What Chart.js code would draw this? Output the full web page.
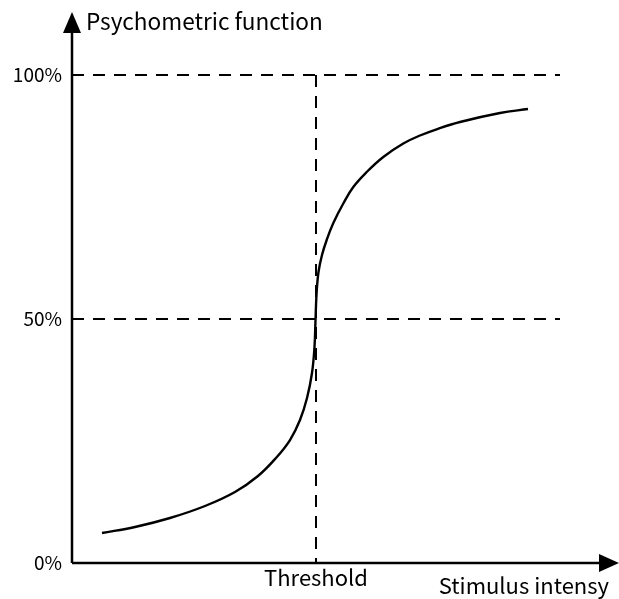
<!DOCTYPE html>
<html>
<head>
<meta charset="utf-8">
<script src="https://cdn.jsdelivr.net/npm/chart.js@4/dist/chart.umd.min.js"></script>
<style>
  html, body { margin: 0; padding: 0; background: #fff; }
  #wrap { width: 619px; height: 599px; }
</style>
</head>
<body>
<div id="wrap"><canvas id="myChart" width="619" height="599"></canvas></div>
<script>
'use strict';

// stimulus intensity (arbitrary units, threshold sits at 50)
const curveX = [6.15, 12.91, 20.08, 27.25, 33.40, 38.11, 41.80, 44.67, 46.72, 48.16, 49.18, 49.69, 49.90, 50.10, 50.51, 51.23, 52.19, 53.55, 55.59, 57.64, 60.39, 63.79, 67.89, 71.31, 75.00, 79.51, 87.70, 93.44];
// percent of responses
const curveY = [6.15, 7.38, 9.22, 11.68, 14.55, 17.83, 21.52, 25.20, 29.30, 33.81, 38.93, 44.26, 49.80, 54.92, 59.63, 63.11, 66.19, 69.67, 73.67, 77.05, 80.12, 83.20, 85.96, 87.60, 88.98, 90.37, 92.21, 93.03];
// y tick values and the dashed reference levels
const yTicks = [0, 50, 100];
const refLevels = [50, 100];
const thresholdX = 50;
const xMax = 100;

const textFont = '"Noto Sans CJK JP", "Open Sans", sans-serif';

// curve points
let curvePoints = [];
for (let i = 0; i < curveX.length; i++) {
  curvePoints.push({ x: curveX[i], y: curveY[i] });
}

// dashed lines: one horizontal per level, one vertical at threshold
let dashSets = [];
for (let level of refLevels) {
  dashSets.push({
    data: [{ x: 0, y: level }, { x: xMax, y: level }],
    showLine: true,
    borderColor: '#000',
    borderWidth: 2,
    borderDash: [12, 9],
    pointRadius: 0,
    clip: false
  });
}
dashSets.push({
  data: [{ x: thresholdX, y: 100 }, { x: thresholdX, y: 0 }],
  showLine: true,
  borderColor: '#000',
  borderWidth: 2,
  borderDash: [12, 9],
  pointRadius: 0,
  clip: false
});

// draws axis lines with arrow heads and the two axis titles
const axesPlugin = {
  id: 'axesPlugin',
  afterDatasetsDraw(chart) {
    const ctx = chart.ctx;
    const area = chart.chartArea;
    ctx.save();
    ctx.strokeStyle = '#000';
    ctx.fillStyle = '#000';
    ctx.lineWidth = 2.5;
    ctx.beginPath();
    ctx.moveTo(area.left, area.bottom);
    ctx.lineTo(area.left, 28);
    ctx.moveTo(area.left, area.bottom);
    ctx.lineTo(606, area.bottom);
    ctx.stroke();
    // y arrow
    ctx.beginPath();
    ctx.moveTo(area.left, 12);
    ctx.lineTo(area.left - 9, 33);
    ctx.lineTo(area.left + 9, 33);
    ctx.closePath();
    ctx.fill();
    // x arrow
    ctx.beginPath();
    ctx.moveTo(619, area.bottom);
    ctx.lineTo(599, area.bottom - 9);
    ctx.lineTo(599, area.bottom + 9);
    ctx.closePath();
    ctx.fill();
    // titles
    ctx.font = '22.6px ' + textFont;
    ctx.textBaseline = 'middle';
    ctx.textAlign = 'left';
    ctx.fillText('Psychometric function', 86, 21);
    ctx.font = '22px ' + textFont;
    ctx.textAlign = 'right';
    ctx.fillText('Stimulus intensy', 609, 586);
    ctx.restore();
  }
};

const data = {
  datasets: [{
    data: curvePoints,
    showLine: true,
    borderColor: '#000',
    borderWidth: 2.4,
    tension: 0.4,
    pointRadius: 0,
    clip: false
  }].concat(dashSets)
};

const config = {
  type: 'scatter',
  data: data,
  options: {
    responsive: false,
    animation: false,
    layout: {
      padding: { top: 75, right: 59, left: 0, bottom: 0 }
    },
    scales: {
      x: {
        type: 'linear',
        min: 0,
        max: xMax,
        grid: { display: false },
        border: { display: false },
        afterBuildTicks: (scale) => { scale.ticks = [{ value: thresholdX }]; },
        afterFit: (scale) => { scale.height = 36; },
        ticks: {
          padding: -7,
          color: '#000',
          font: { family: textFont, size: 22 },
          callback: () => 'Threshold'
        }
      },
      y: {
        min: 0,
        max: 100,
        grid: { display: false },
        border: { display: false },
        afterBuildTicks: (scale) => { scale.ticks = yTicks.map(v => ({ value: v })); },
        afterFit: (scale) => { scale.width = 72; },
        ticks: {
          padding: 2,
          color: '#000',
          font: { family: textFont, size: 19 },
          callback: (v) => v + '%'
        }
      }
    },
    plugins: {
      legend: { display: false },
      tooltip: { enabled: false }
    }
  },
  plugins: [axesPlugin]
};

const myChart = new Chart(document.getElementById('myChart'), config);
</script>
</body>
</html>
